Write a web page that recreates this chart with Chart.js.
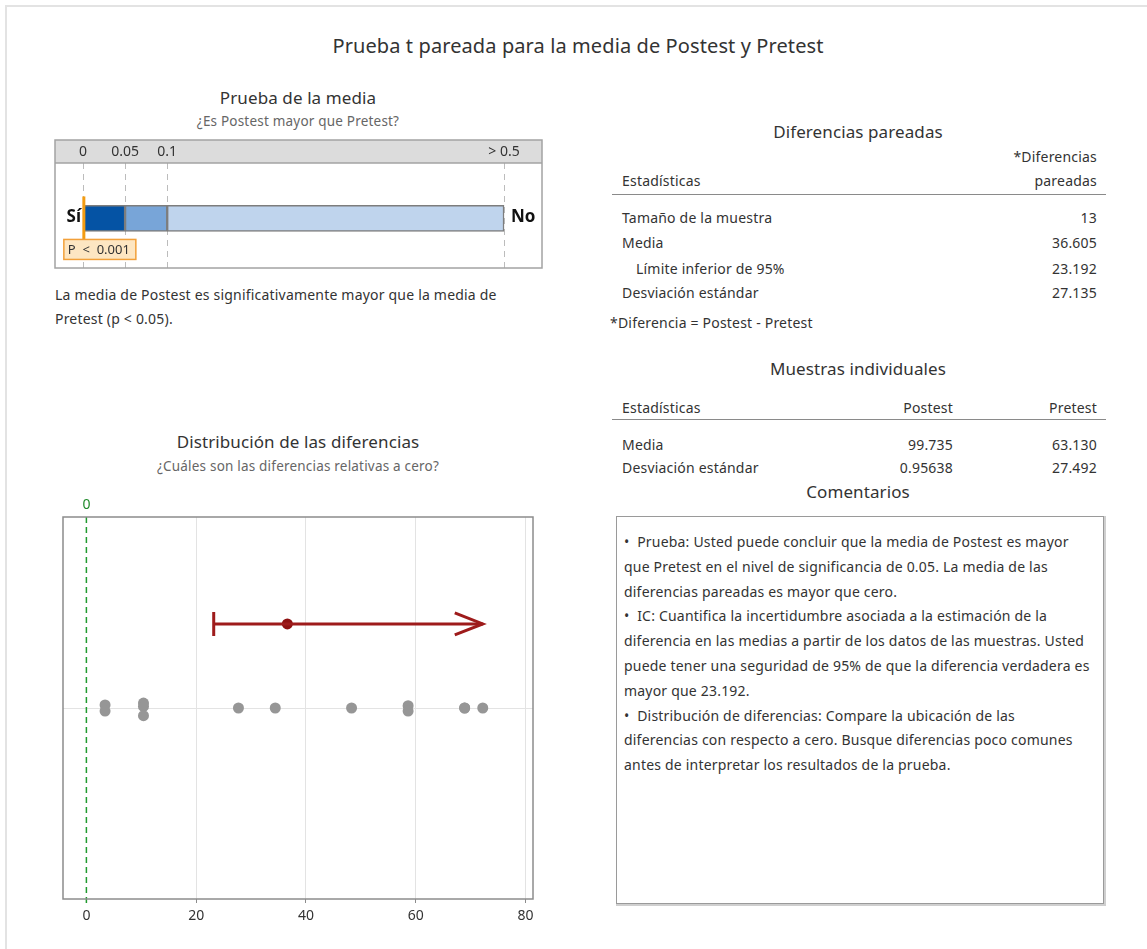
<!DOCTYPE html>
<html lang="es">
<head>
<meta charset="utf-8">
<title>Prueba t pareada para la media de Postest y Pretest</title>
<script src="https://cdn.jsdelivr.net/npm/chart.js@4.4.1/dist/chart.umd.min.js"></script>
<style>
  html, body { margin: 0; padding: 0; background: #fff; }
  body {
    width: 1147px; height: 949px; position: relative; overflow: hidden;
    font-family: "Noto Sans", "Open Sans", sans-serif; color: #333;
  }
  .frame {
    position: absolute; left: 5px; top: 5px; width: 1200px; height: 1000px;
    border-top: 2px solid #e3e3e3; border-left: 2px solid #e3e3e3;
  }
  .t { position: absolute; white-space: nowrap; height: 20px; line-height: 20px; font-size: 14px; letter-spacing: 0.2px; }
  .c { transform: translateX(-50%); }
  .r { text-align: right; }
  .h1 { font-size: 20px; letter-spacing: 0.1px; }
  .h2 { font-size: 17px; letter-spacing: 0.1px; }
  .sub { font-size: 13.5px; color: #666; }
  .rule { position: absolute; left: 612px; width: 494px; height: 0; border-top: 1.5px solid #8a8a8a; }
  .notes {
    position: absolute; left: 616px; top: 516px; width: 488px; height: 388px;
    box-sizing: border-box; border: 1px solid #9a9a9a; box-shadow: 1px 1px 0 1px #cfcfcf;
    padding: 13px 0 0 7px; font-size: 14px; letter-spacing: 0.2px; line-height: 24.8px;
    color: #333; white-space: nowrap;
  }
  canvas { position: absolute; }
</style>
</head>
<body>
<div class="frame"></div>

<div class="t c h1" style="left:578px; top:36px;">Prueba t pareada para la media de Postest y Pretest</div>

<div class="t c h2" style="left:298px; top:88px;">Prueba de la media</div>
<div class="t c sub" style="left:298px; top:111px;">¿Es Postest mayor que Pretest?</div>
<canvas id="pChart" width="489" height="130" style="left:54px; top:139px;"></canvas>
<div class="t" style="left:55px; top:285px;">La media de Postest es significativamente mayor que la media de</div>
<div class="t" style="left:55px; top:309px;">Pretest (p &lt; 0.05).</div>

<div class="t c h2" style="left:298px; top:432px;">Distribución de las diferencias</div>
<div class="t c sub" style="left:298px; top:456px;">¿Cuáles son las diferencias relativas a cero?</div>
<canvas id="diffChart" width="510" height="440" style="left:40px; top:490px;"></canvas>

<div class="t c h2" style="left:858px; top:122px;">Diferencias pareadas</div>
<div class="t r" style="right:50px; top:147px;">*Diferencias</div>
<div class="t" style="left:622px; top:171px;">Estadísticas</div>
<div class="t r" style="right:50px; top:171px;">pareadas</div>
<div class="rule" style="top:194px;"></div>
<div id="pairedRows"></div>
<div class="t" style="left:610px; top:313px;">*Diferencia = Postest - Pretest</div>

<div class="t c h2" style="left:858px; top:359px;">Muestras individuales</div>
<div class="t" style="left:622px; top:398px;">Estadísticas</div>
<div class="t r" style="right:194px; top:398px;">Postest</div>
<div class="t r" style="right:50px; top:398px;">Pretest</div>
<div class="rule" style="top:419px;"></div>
<div id="sampleRows"></div>

<div class="t c h2" style="left:858px; top:482px;">Comentarios</div>
<div class="notes">
•&nbsp; Prueba: Usted puede concluir que la media de Postest es mayor<br>
que Pretest en el nivel de significancia de 0.05. La media de las<br>
diferencias pareadas es mayor que cero.<br>
•&nbsp; IC: Cuantifica la incertidumbre asociada a la estimación de la<br>
diferencia en las medias a partir de los datos de las muestras. Usted<br>
puede tener una seguridad de 95% de que la diferencia verdadera es<br>
mayor que 23.192.<br>
•&nbsp; Distribución de diferencias: Compare la ubicación de las<br>
diferencias con respecto a cero. Busque diferencias poco comunes<br>
antes de interpretar los resultados de la prueba.
</div>

<script>
'use strict'

// summary statistics
const pairedStats = ['Tamaño de la muestra', 'Media', 'Límite inferior de 95%', 'Desviación estándar'];
const pairedValues = [13, 36.605, 23.192, 27.135];

const sampleStats = ['Media', 'Desviación estándar'];
const postestValues = [99.735, 0.95638];
const pretestValues = [63.130, 27.492];

// p-value scale
const pTicks = [0, 0.05, 0.1, 0.5];
const pTickLabels = ['0', '0.05', '0.1', '> 0.5'];
const pBands = [[0, 0.05], [0.05, 0.1], [0.1, 0.5]];
const pValue = 0.001;

// paired differences (Postest - Pretest) and their vertical stacking offsets
const diffValues = [3.4, 3.4, 10.4, 10.4, 10.4, 27.7, 34.4, 48.3, 58.6, 58.6, 68.9, 68.9, 72.2];
const diffStack  = [0.016, -0.016, 0.026, 0.008, -0.04, 0, 0, 0, 0.012, -0.016, 0, 0, 0];
const diffTicks = [0, 20, 40, 60, 80];

const meanDiff = pairedValues[1];
const ciLower = pairedValues[2];
const ciUpper = Math.max(...diffValues);   // arrow head, bound is open
const ciRow = 0.44;


function fmt(v) {
    return Number.isInteger(v) ? String(v) : v.toPrecision(5);
}

function cell(parent, text, cy, side, pos) {
    const d = document.createElement('div');
    d.className = 't' + (side === 'right' ? ' r' : '');
    d.style[side] = pos + 'px';
    d.style.top = (cy - 10) + 'px';
    d.textContent = text;
    parent.appendChild(d);
}

const pairedRowsY = [218, 243, 269, 293];
const pairedBox = document.getElementById('pairedRows');
pairedStats.forEach((s, i) => {
    cell(pairedBox, s, pairedRowsY[i], 'left', i === 2 ? 636 : 622);
    cell(pairedBox, fmt(pairedValues[i]), pairedRowsY[i], 'right', 50);
});

const sampleRowsY = [445, 468];
const sampleBox = document.getElementById('sampleRows');
sampleStats.forEach((s, i) => {
    cell(sampleBox, s, sampleRowsY[i], 'left', 622);
    cell(sampleBox, fmt(postestValues[i]), sampleRowsY[i], 'right', 194);
    cell(sampleBox, fmt(pretestValues[i]), sampleRowsY[i], 'right', 50);
});


// header strip, frame, Sí / No and the p marker
const pDecor = {
    id: 'pDecor',
    beforeDraw(chart) {
        const { ctx, chartArea: a } = chart;
        const sx = chart.scales.x;
        ctx.save();
        ctx.fillStyle = '#dcdcdc';
        ctx.fillRect(a.left, sx.top, a.right - a.left, sx.bottom - sx.top);
        ctx.restore();
    },
    afterDraw(chart) {
        const { ctx, chartArea: a } = chart;
        const sx = chart.scales.x;
        const sy = chart.scales.y;
        const barTop = sy.getPixelForValue(0) - 13;
        const barBottom = barTop + 26;
        ctx.save();

        ctx.strokeStyle = '#a3a3a3';
        ctx.lineWidth = 1.5;
        ctx.strokeRect(a.left, sx.top, a.right - a.left, a.bottom - sx.top);
        ctx.beginPath();
        ctx.moveTo(a.left, a.top);
        ctx.lineTo(a.right, a.top);
        ctx.stroke();

        ctx.fillStyle = '#111';
        ctx.font = 'bold 17px "Noto Sans", sans-serif';
        ctx.textBaseline = 'middle';
        ctx.textAlign = 'right';
        ctx.fillText('Sí', sx.getPixelForValue(0) - 2, barTop + 12);
        ctx.textAlign = 'left';
        ctx.fillText('No', sx.getPixelForValue(0.5) + 7, barTop + 12);

        const px = sx.getPixelForValue(pValue);
        ctx.strokeStyle = '#f39c12';
        ctx.lineWidth = 3;
        ctx.beginPath();
        ctx.moveTo(px, barTop - 9);
        ctx.lineTo(px, barBottom + 8);
        ctx.stroke();

        ctx.fillStyle = '#fde6c2';
        ctx.fillRect(px - 20, barBottom + 8, 72, 20);
        ctx.strokeStyle = '#f2a03a';
        ctx.lineWidth = 1.5;
        ctx.strokeRect(px - 20, barBottom + 8, 72, 20);
        ctx.fillStyle = '#333';
        ctx.font = '13px "Noto Sans", sans-serif';
        ctx.textAlign = 'left';
        ctx.fillText('P  <  ' + pValue, px - 16, barBottom + 18.5);
        ctx.restore();
    }
};

new Chart(document.getElementById('pChart'), {
    type: 'bar',
    data: {
        datasets: [{
            data: pBands.map(b => ({ x: b, y: 0 })),
            backgroundColor: ['#0553a4', '#78a5d8', '#bfd4ed'],
            borderColor: '#7d7d7d',
            borderWidth: 1.5,
            borderSkipped: false,
            barThickness: 26
        }]
    },
    options: {
        indexAxis: 'y',
        responsive: false,
        animation: false,
        events: [],
        layout: { padding: 1 },
        plugins: { legend: { display: false }, tooltip: { enabled: false } },
        scales: {
            x: {
                type: 'linear',
                position: 'top',
                min: -0.03326,
                max: 0.5451,
                afterBuildTicks: s => { s.ticks = pTicks.map(v => ({ value: v })); },
                afterFit: s => { s.height = 23; },
                ticks: {
                    autoSkip: false,
                    maxRotation: 0,
                    padding: 3,
                    color: '#333',
                    font: { family: '"Noto Sans", sans-serif', size: 14 },
                    callback: (v, i) => pTickLabels[i]
                },
                grid: { color: '#bcbcbc', lineWidth: 1, drawTicks: false },
                border: { display: false, dash: [6, 5] }
            },
            y: {
                type: 'linear',
                display: false,
                min: -0.93,
                max: 1.07
            }
        }
    },
    plugins: [pDecor]
});


// zero reference, frame, interval cap and open arrow head
const diffDecor = {
    id: 'diffDecor',
    beforeDatasetsDraw(chart) {
        const { ctx, chartArea: a } = chart;
        const x0 = chart.scales.x.getPixelForValue(0);
        ctx.save();
        ctx.strokeStyle = '#1f9a2e';
        ctx.lineWidth = 1.5;
        ctx.setLineDash([6, 4]);
        ctx.beginPath();
        ctx.moveTo(x0, a.top);
        ctx.lineTo(x0, a.bottom + 4);
        ctx.stroke();
        ctx.restore();
    },
    afterDraw(chart) {
        const { ctx, chartArea: a } = chart;
        const sx = chart.scales.x;
        const sy = chart.scales.y;
        ctx.save();
        ctx.strokeStyle = '#8c8c8c';
        ctx.lineWidth = 1.5;
        ctx.strokeRect(a.left, a.top, a.right - a.left, a.bottom - a.top);

        ctx.fillStyle = '#1f8a2a';
        ctx.font = '14px "Noto Sans", sans-serif';
        ctx.textAlign = 'center';
        ctx.textBaseline = 'middle';
        ctx.fillText('0', sx.getPixelForValue(0), a.top - 12);

        const cy = sy.getPixelForValue(ciRow);
        const xl = sx.getPixelForValue(ciLower);
        const xu = sx.getPixelForValue(ciUpper);
        ctx.strokeStyle = '#9e1b1b';
        ctx.lineWidth = 3;
        ctx.beginPath();
        ctx.moveTo(xl, cy - 12);
        ctx.lineTo(xl, cy + 12);
        ctx.moveTo(xu - 28, cy - 11);
        ctx.lineTo(xu, cy);
        ctx.lineTo(xu - 28, cy + 11);
        ctx.stroke();
        ctx.restore();
    }
};

new Chart(document.getElementById('diffChart'), {
    type: 'scatter',
    data: {
        datasets: [
            {
                data: diffValues.map((v, i) => ({ x: v, y: diffStack[i] })),
                pointRadius: 5.5,
                pointBackgroundColor: '#969696',
                pointBorderWidth: 0
            },
            {
                data: [{ x: ciLower, y: ciRow }, { x: ciUpper, y: ciRow }],
                showLine: true,
                borderColor: '#9e1b1b',
                borderWidth: 3,
                pointRadius: 0
            },
            {
                data: [{ x: meanDiff, y: ciRow }],
                pointRadius: 5.5,
                pointBackgroundColor: '#8e1010',
                pointBorderWidth: 0
            }
        ]
    },
    options: {
        responsive: false,
        animation: false,
        events: [],
        layout: { padding: { left: 23, right: 17, top: 27, bottom: 0 } },
        plugins: { legend: { display: false }, tooltip: { enabled: false } },
        scales: {
            x: {
                min: -4.26,
                max: 81.35,
                afterBuildTicks: s => { s.ticks = diffTicks.map(v => ({ value: v })); },
                afterFit: s => { s.height = 31; },
                ticks: {
                    padding: 5,
                    color: '#333',
                    font: { family: '"Noto Sans", sans-serif', size: 14 }
                },
                grid: {
                    color: ctx => ctx.tick && ctx.tick.value === 0 ? 'rgba(0,0,0,0)' : '#e3e3e3',
                    tickColor: '#8c8c8c',
                    tickLength: 4
                },
                border: { display: false }
            },
            y: {
                min: -1,
                max: 1,
                afterBuildTicks: s => { s.ticks = [{ value: 0 }]; },
                afterFit: s => { s.width = 0; },
                ticks: { display: false },
                grid: { color: '#e3e3e3', drawTicks: false },
                border: { display: false }
            }
        }
    },
    plugins: [diffDecor]
});
</script>
</body>
</html>
